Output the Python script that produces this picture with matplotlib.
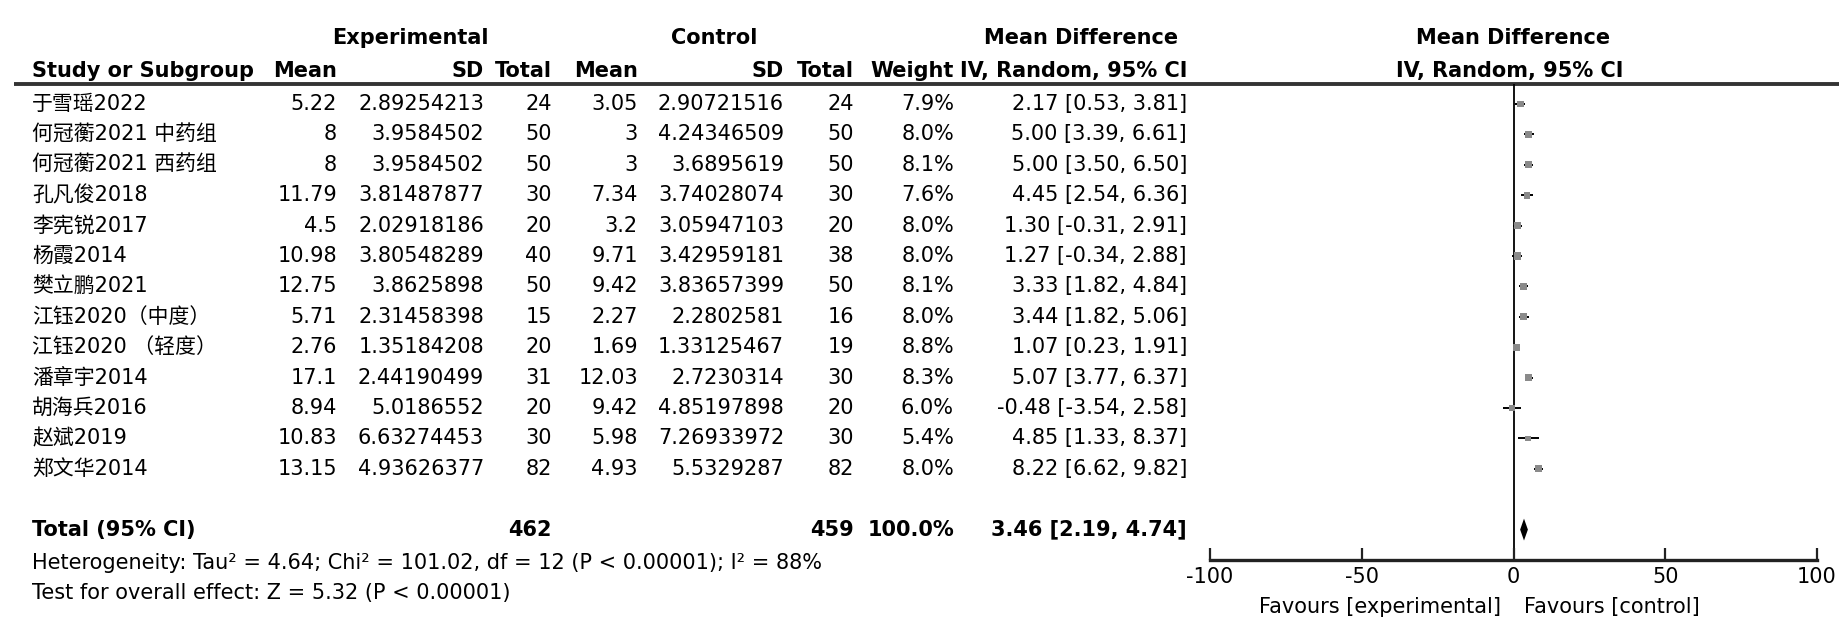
import matplotlib
matplotlib.use('Agg')
import matplotlib.pyplot as plt

plt.rcParams['font.family'] = ['DejaVu Sans', 'Noto Sans CJK SC']
plt.rcParams['axes.unicode_minus'] = False

# study data
studies = ['于雪瑶2022', '何冠蘅2021 中药组', '何冠蘅2021 西药组', '孔凡俊2018', '李宪锐2017',
           '杨霞2014', '樊立鹏2021', '江钰2020（中度）', '江钰2020 （轻度）', '潘章宇2014',
           '胡海兵2016', '赵斌2019', '郑文华2014']
exp_mean = [5.22, 8, 8, 11.79, 4.5, 10.98, 12.75, 5.71, 2.76, 17.1, 8.94, 10.83, 13.15]
exp_sd = [2.89254213, 3.9584502, 3.9584502, 3.81487877, 2.02918186, 3.80548289, 3.8625898,
          2.31458398, 1.35184208, 2.44190499, 5.0186552, 6.63274453, 4.93626377]
exp_n = [24, 50, 50, 30, 20, 40, 50, 15, 20, 31, 20, 30, 82]
ctl_mean = [3.05, 3, 3, 7.34, 3.2, 9.71, 9.42, 2.27, 1.69, 12.03, 9.42, 5.98, 4.93]
ctl_sd = [2.90721516, 4.24346509, 3.6895619, 3.74028074, 3.05947103, 3.42959181, 3.83657399,
          2.2802581, 1.33125467, 2.7230314, 4.85197898, 7.26933972, 5.5329287]
ctl_n = [24, 50, 50, 30, 20, 38, 50, 16, 19, 30, 20, 30, 82]
weight = [7.9, 8.0, 8.1, 7.6, 8.0, 8.0, 8.1, 8.0, 8.8, 8.3, 6.0, 5.4, 8.0]
md = [2.17, 5.00, 5.00, 4.45, 1.30, 1.27, 3.33, 3.44, 1.07, 5.07, -0.48, 4.85, 8.22]
lo = [0.53, 3.39, 3.50, 2.54, -0.31, -0.34, 1.82, 1.82, 0.23, 3.77, -3.54, 1.33, 6.62]
hi = [3.81, 6.61, 6.50, 6.36, 2.91, 2.88, 4.84, 5.06, 1.91, 6.37, 2.58, 8.37, 9.82]

total_exp = 462
total_ctl = 459
total_weight = 100.0
pooled = [3.46, 2.19, 4.74]
het_text = 'Heterogeneity: Tau² = 4.64; Chi² = 101.02, df = 12 (P < 0.00001); I² = 88%'
effect_text = 'Test for overall effect: Z = 5.32 (P < 0.00001)'
xticks = [-100, -50, 0, 50, 100]


def fmt(v):
    return f'{v:.2f}'


W, H = 1843, 632
fig = plt.figure(figsize=(W / 100, H / 100), dpi=100)
fs = 15
top_px, bot_px, row0_px, row_h = 84, 560, 104, 30.4
y_top = (top_px - row0_px) / row_h
y_bot = (bot_px - row0_px) / row_h
ax_rect = [0, 1 - bot_px / H, 1, (bot_px - top_px) / H]

tab = fig.add_axes(ax_rect)
tab.set_xlim(0, W)
tab.set_ylim(y_bot, y_top)
tab.axis('off')

rows = list(range(len(studies)))
total_row = len(studies) + 1

# column right edges (pixels)
c_lab, c_em, c_esd, c_en, c_cm, c_csd, c_cn, c_w, c_ci = 32, 337, 484, 552, 638, 784, 854, 954, 1187

hy1, hy2 = -2.17, -1.09
bold = dict(fontsize=fs, fontweight='bold', va='center', clip_on=False)
tab.text(410, hy1, 'Experimental', ha='center', **bold)
tab.text(714, hy1, 'Control', ha='center', **bold)
tab.text(1081, hy1, 'Mean Difference', ha='center', **bold)
tab.text(1513, hy1, 'Mean Difference', ha='center', **bold)
tab.text(c_lab, hy2, 'Study or Subgroup', ha='left', **bold)
for x, s in [(c_em, 'Mean'), (c_esd, 'SD'), (c_en, 'Total'), (c_cm, 'Mean'),
             (c_csd, 'SD'), (c_cn, 'Total'), (c_w, 'Weight'), (c_ci, 'IV, Random, 95% CI')]:
    tab.text(x, hy2, s, ha='right', **bold)
tab.text(1510, hy2, 'IV, Random, 95% CI', ha='center', **bold)
tab.hlines(y_top, 14, 1839, color='#333333', lw=2.8, clip_on=False)

norm = dict(fontsize=fs, va='center', clip_on=False)
for i in rows:
    tab.text(c_lab, i, studies[i], ha='left', **norm)
    tab.text(c_em, i, f'{exp_mean[i]:g}', ha='right', **norm)
    tab.text(c_esd, i, str(exp_sd[i]), ha='right', **norm)
    tab.text(c_en, i, str(exp_n[i]), ha='right', **norm)
    tab.text(c_cm, i, f'{ctl_mean[i]:g}', ha='right', **norm)
    tab.text(c_csd, i, str(ctl_sd[i]), ha='right', **norm)
    tab.text(c_cn, i, str(ctl_n[i]), ha='right', **norm)
    tab.text(c_w, i, f'{weight[i]:.1f}%', ha='right', **norm)
    tab.text(c_ci, i, f'{fmt(md[i])} [{fmt(lo[i])}, {fmt(hi[i])}]', ha='right', **norm)

tab.text(c_lab, total_row, 'Total (95% CI)', ha='left', **bold)
tab.text(c_en, total_row, str(total_exp), ha='right', **bold)
tab.text(c_cn, total_row, str(total_ctl), ha='right', **bold)
tab.text(c_w, total_row, f'{total_weight:.1f}%', ha='right', **bold)
tab.text(c_ci, total_row, f'{fmt(pooled[0])} [{fmt(pooled[1])}, {fmt(pooled[2])}]', ha='right', **bold)
tab.text(c_lab, total_row + 1.1, het_text, ha='left', **norm)
tab.text(c_lab, total_row + 2.08, effect_text, ha='left', **norm)

# forest panel
left_px, right_px = 1210, 1817
ax = fig.add_axes([left_px / W, ax_rect[1], (right_px - left_px) / W, ax_rect[3]])
ax.set_xlim(xticks[0], xticks[-1])
ax.set_ylim(y_bot, y_top)
ax.patch.set_alpha(0)
for sp in ['top', 'left', 'right']:
    ax.spines[sp].set_visible(False)
ax.spines['bottom'].set_linewidth(2.4)
ax.spines['bottom'].set_color('#222222')
ax.set_yticks([])
ax.set_xticks(xticks)
ax.tick_params(axis='x', direction='in', length=9, width=1.6, labelsize=fs, pad=5, color='#222222')
ax.axvline(0, color='black', lw=1.3, zorder=1)

ax.hlines(rows, lo, hi, color='black', lw=1.4, zorder=2)
ax.scatter(md, rows, marker='s', s=[w * 3.2 for w in weight], color='#8a8a8a', zorder=3, lw=0)
d_h = 0.36
ax.fill([pooled[1], pooled[0], pooled[2], pooled[0]],
        [total_row, total_row - d_h, total_row, total_row + d_h], color='black', lw=0, zorder=3)

fav_y = total_row + 2.55
ax.text(-4, fav_y, 'Favours [experimental]', ha='right', va='center', fontsize=fs, clip_on=False)
ax.text(3.6, fav_y, 'Favours [control]', ha='left', va='center', fontsize=fs, clip_on=False)

fig.savefig('out.png', dpi=100)
